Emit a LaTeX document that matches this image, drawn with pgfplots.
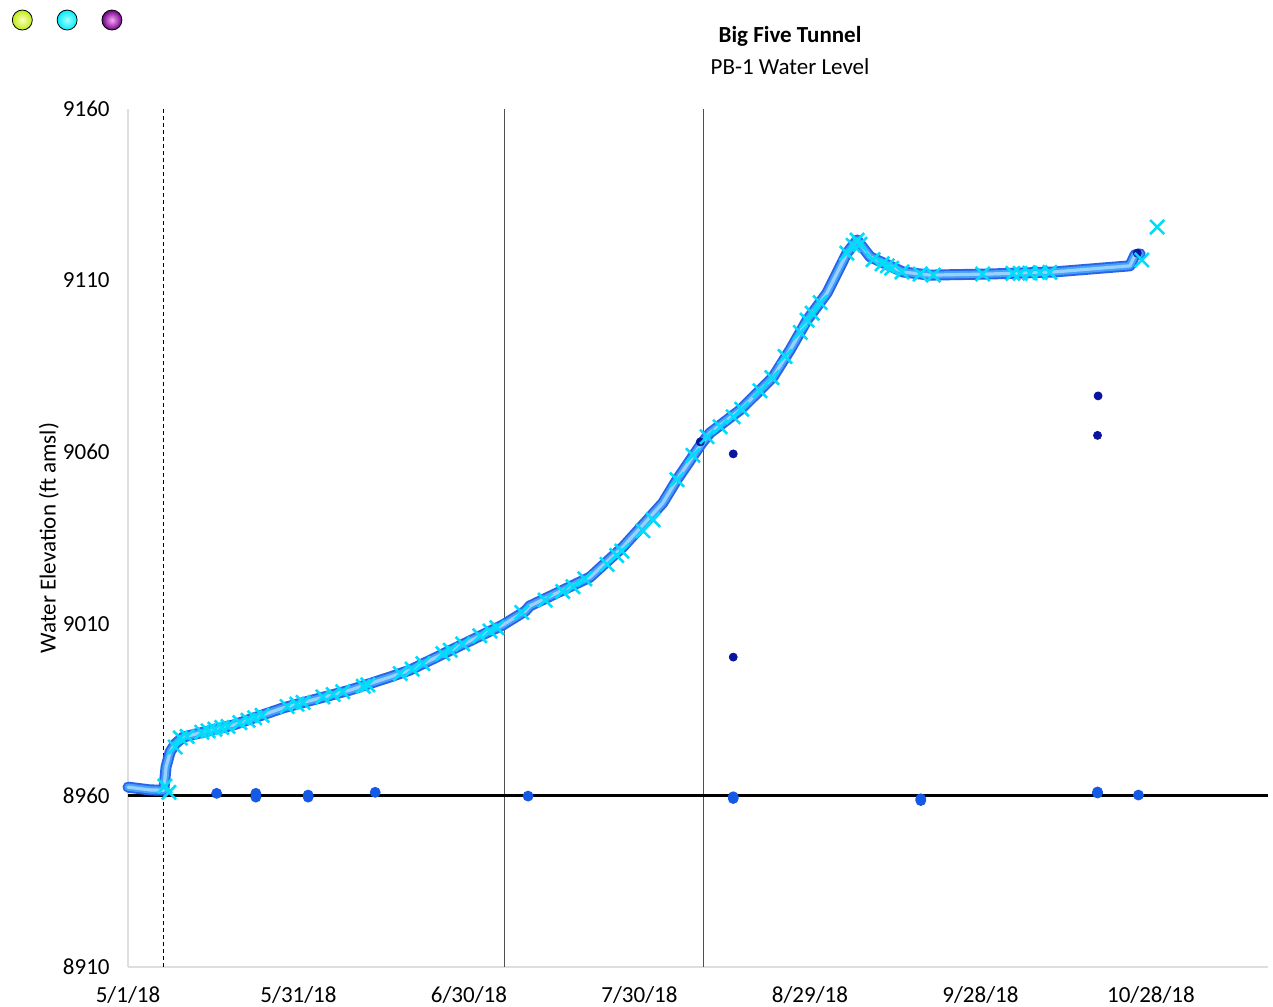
\documentclass[border=0pt]{standalone}
\usepackage{pgfplots}
\usepackage{pgfplotstable}
\pgfplotsset{compat=1.18}
\usepackage{fontspec}
\setmainfont{Carlito}

\definecolor{lineedge}{RGB}{40,100,235}
\definecolor{linemid}{RGB}{70,160,250}
\definecolor{linecore}{RGB}{150,210,255}
\definecolor{xcyan}{RGB}{0,220,252}
\definecolor{dotblue}{RGB}{20,90,230}
\definecolor{dotnavy}{RGB}{10,20,160}
\definecolor{axgray}{RGB}{222,222,222}
\definecolor{vgray}{RGB}{80,80,80}

% transducer record (days after 5/1/18, ft amsl)
\pgfplotstableread{
day level
0.0 8962.4
3.9 8961.6
6.3 8961.5
6.7 8968.3
7.4 8972.6
8.3 8975.0
9.7 8977.0
18.5 8980.5
27.3 8985.5
39.1 8990.7
46.1 8994.5
49.6 8996.5
57.9 9003.2
66.0 9009.7
69.9 9013.7
70.7 9015.2
81.3 9023.6
87.1 9032.4
94.1 9045.2
96.6 9052.0
101.0 9062.7
102.4 9065.6
107.7 9072.3
110.7 9077.2
113.5 9081.9
116.5 9089.8
119.5 9098.5
123.0 9106.4
126.5 9118.0
128.3 9121.8
130.6 9116.9
136.4 9112.5
141.1 9111.6
151.2 9111.9
162.8 9112.5
176.3 9114.3
177.2 9117.5
178.1 9117.8
}\trans

% manual readings
\pgfplotstableread{
day level
6.5 8962.7
7.2 8960.9
8.3 8974.1
9.2 8976.7
10.4 8977.2
13.0 8978.4
14.1 8978.8
15.3 8979.3
16.5 8979.8
17.6 8980.1
19.7 8981.2
21.1 8981.9
22.3 8982.6
23.6 8983.3
28.0 8985.9
29.7 8986.6
30.8 8987.1
34.3 8988.7
36.1 8989.4
37.8 8990.2
41.4 8991.8
42.2 8992.2
47.9 8995.5
50.0 8996.8
51.9 8998.4
55.4 9001.3
56.7 9002.3
58.9 9004.1
61.9 9006.5
63.7 9007.9
64.9 9008.9
69.3 9013.3
73.4 9016.9
76.5 9019.4
78.3 9020.8
80.4 9023.1
84.3 9027.3
86.0 9029.9
86.9 9031.2
90.6 9037.1
92.4 9040.3
96.6 9052.0
99.4 9059.1
101.9 9064.5
104.2 9067.4
106.5 9070.3
108.0 9072.5
111.2 9077.9
113.3 9081.7
115.6 9087.9
118.3 9094.9
119.5 9098.5
120.4 9100.5
121.8 9103.6
126.5 9118.0
127.6 9120.3
128.3 9121.8
128.8 9120.6
131.1 9116.1
132.7 9114.9
133.6 9114.3
134.4 9113.6
136.2 9112.5
139.4 9111.9
141.7 9111.6
150.4 9111.9
155.7 9112.1
157.0 9112.1
158.7 9112.2
160.5 9112.3
162.2 9112.4
178.4 9116.0
181.1 9125.6
}\manual

\pgfplotstableread{
day level
15.6 8960.6
22.5 8960.6
22.5 8959.5
31.7 8960.1
31.7 8959.5
43.5 8960.9
70.4 8959.8
106.5 8959.6
106.5 8959.1
139.5 8959.0
139.5 8958.5
170.6 8961.0
170.6 8960.7
177.8 8960.1
}\lowdots

\pgfplotstableread{
day level
100.7 9063.0
106.5 9059.5
106.5 9000.3
170.7 9076.4
170.6 9064.9
177.6 9118.0
}\navydots

\begin{document}
\begin{tikzpicture}
\begin{axis}[
    name=ax,
    scale only axis,
    width=570pt, height=429pt,
    xmin=0, xmax=200.6,
    ymin=8910, ymax=9160,
    xtick={0,30,...,180},
    xticklabels={5/1/18,5/31/18,6/30/18,7/30/18,8/29/18,9/28/18,10/28/18},
    ytick={8910,8960,...,9160},
    axis x line*=bottom, axis y line*=left,
    axis line style={draw=axgray, line width=1pt, -},
    major tick length=0pt,
    tick label style={font=\fontsize{11.5}{13}\selectfont},
    /pgf/number format/assume math mode=true,
    /pgf/number format/1000 sep={},
    yticklabel style={anchor=east, inner sep=0pt, xshift=-9pt},
    xticklabel style={anchor=north, inner sep=0pt, yshift=-9.5pt},
    ylabel={Water Elevation (ft amsl)},
    ylabel style={font=\fontsize{11.5}{13}\selectfont, at={(rel axis cs:-0.0695,0.5)}, anchor=center},
    clip=false,
    legend columns=3,
    legend style={draw=none, fill=none, inner sep=0pt, outer sep=0pt,
        at={(rel axis cs:-0.1018,1.1037)}, anchor=west,
        column sep=0pt, nodes={inner sep=0pt},
        /tikz/every even column/.style={column sep=11pt}},
]
\addlegendimage{legend image code/.code={\shade[inner color=yellow!25, outer color={rgb,255:red,190;green,235;blue,20}] (0pt,0pt) circle (5pt);}}
\addlegendentry{\mbox{}}
\addlegendimage{legend image code/.code={\shade[inner color=cyan!35, outer color={rgb,255:red,0;green,235;blue,250}] (0pt,0pt) circle (5pt);}}
\addlegendentry{\mbox{}}
\addlegendimage{legend image code/.code={\shade[inner color=magenta!35, outer color={rgb,255:red,110;green,0;blue,130}] (0pt,0pt) circle (5pt);}}
\addlegendentry{\mbox{}}

% reference lines
\addplot[black, line width=0.5pt, dash pattern=on 2pt off 1.5pt] coordinates {(6.3,8910) (6.3,9160)};
\addplot[vgray, line width=0.6pt] coordinates {(66.2,8910) (66.2,9160)};
\addplot[vgray, line width=0.6pt] coordinates {(101.2,8910) (101.2,9160)};
\addplot[black, line width=1.8pt] coordinates {(0,8960) (200.6,8960)};

\addplot[only marks, mark=*, mark size=2pt, dotnavy, forget plot] table[x=day, y=level] {\navydots};

% transducer trace
\addplot[lineedge, line width=5.5pt, line cap=round, line join=round, forget plot] table[x=day, y=level] {\trans};
\addplot[linemid, line width=3.6pt, line cap=round, line join=round, forget plot] table[x=day, y=level] {\trans};
\addplot[linecore, line width=1.6pt, line cap=round, line join=round, forget plot] table[x=day, y=level] {\trans};

\addplot[only marks, mark=x, mark size=5pt, xcyan, mark options={line width=1.3pt}, forget plot] table[x=day, y=level] {\manual};
\addplot[only marks, mark=*, mark size=2.5pt, dotblue, forget plot] table[x=day, y=level] {\lowdots};

\node[align=center, font=\fontsize{11.5}{16}\selectfont] at (rel axis cs:0.5807,1.0685)
    {\textbf{Big Five Tunnel}\\PB-1 Water Level};
\end{axis}
\pgfresetboundingbox
\path (ax.south west) ++(-64pt,-19.5pt) rectangle ++(636.5pt,503pt);
\end{tikzpicture}
\end{document}
